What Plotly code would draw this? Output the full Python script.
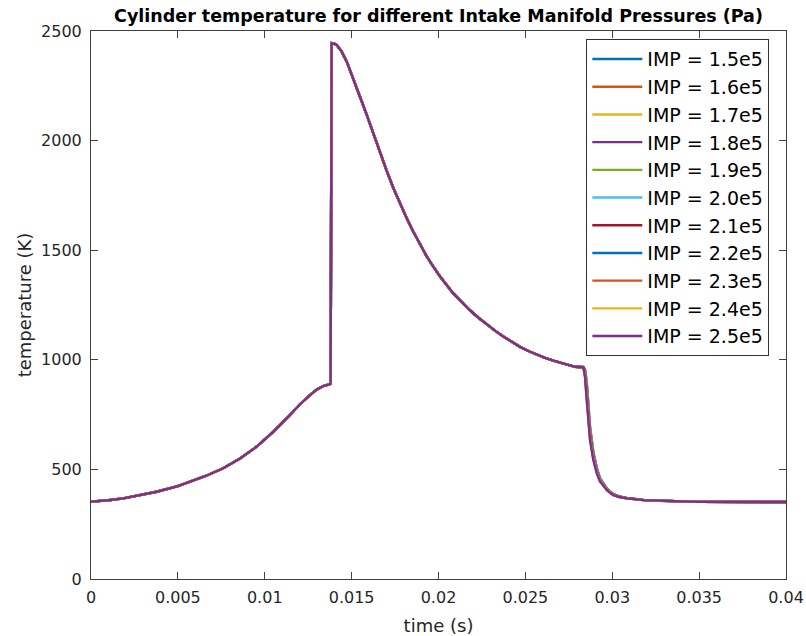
import plotly.graph_objects as go

# Cycle portion shared by every intake pressure: compression, combustion
# jump and expansion, up to the point where the exhaust valve opens.
t_cycle = [0.0, 0.001, 0.00186, 0.0028, 0.00378, 0.005, 0.0057, 0.0066,
           0.00761, 0.0086, 0.00954, 0.0105, 0.01145, 0.012, 0.0126, 0.013,
           0.01337, 0.0136, 0.01379, 0.01385, 0.014, 0.01414, 0.01443,
           0.01472, 0.0151, 0.01548, 0.01587, 0.01625, 0.01663, 0.01702,
           0.0174, 0.01778, 0.01817, 0.01855, 0.01894, 0.01932, 0.0197,
           0.02009, 0.02085, 0.0213, 0.02181, 0.0223, 0.02277, 0.02325,
           0.02373, 0.0242, 0.02469, 0.02517, 0.02565, 0.02613, 0.02661,
           0.02738, 0.02786, 0.02834]
T_cycle = [353, 359, 368, 381, 398, 424, 444, 470,
           505, 551, 604, 672, 748, 795, 839, 865,
           880, 887, 890, 2444, 2442, 2436, 2406,
           2360, 2284, 2200, 2117, 2030, 1948, 1862,
           1784, 1714, 1646, 1584, 1524, 1472, 1425,
           1380, 1303, 1265, 1226, 1192, 1162, 1133,
           1106, 1081, 1059, 1040, 1023, 1009, 996,
           978, 968, 966]

# Blowdown after the exhaust valve opens, one profile per intake pressure.
t_blowdown = [0.02843, 0.02853, 0.02862, 0.02872, 0.02891, 0.02911, 0.0293,
              0.0295, 0.02968, 0.02987, 0.03006, 0.0304, 0.03083, 0.03179,
              0.03275, 0.035, 0.04]
T_blowdown = [
    [958, 904, 803, 697, 581, 507, 460, 435, 414, 399, 388, 377, 370, 361, 357, 352, 351],
    [955, 895, 794, 691, 577, 505, 458, 434, 413, 398, 388, 377, 370, 361, 357, 352, 351],
    [951, 887, 784, 684, 573, 502, 457, 433, 412, 398, 387, 376, 370, 361, 357, 352, 351],
    [948, 878, 775, 678, 570, 500, 455, 431, 412, 397, 387, 376, 369, 361, 357, 352, 351],
    [944, 869, 766, 672, 566, 497, 454, 430, 411, 397, 386, 376, 369, 361, 357, 352, 351],
    [941, 861, 757, 666, 562, 495, 452, 429, 410, 396, 386, 376, 369, 360, 357, 352, 351],
    [937, 852, 747, 659, 558, 492, 450, 428, 409, 395, 385, 375, 369, 360, 357, 352, 351],
    [934, 843, 738, 653, 554, 490, 449, 427, 408, 395, 385, 375, 369, 360, 357, 352, 351],
    [930, 834, 729, 647, 551, 487, 447, 425, 408, 394, 384, 375, 368, 360, 357, 352, 351],
    [927, 826, 719, 640, 547, 485, 446, 424, 407, 394, 384, 374, 368, 360, 357, 352, 351],
    [923, 817, 710, 634, 543, 482, 444, 423, 406, 393, 383, 374, 368, 360, 357, 352, 351],
]

imp_labels = ["IMP = 1.5e5", "IMP = 1.6e5", "IMP = 1.7e5", "IMP = 1.8e5",
              "IMP = 1.9e5", "IMP = 2.0e5", "IMP = 2.1e5", "IMP = 2.2e5",
              "IMP = 2.3e5", "IMP = 2.4e5", "IMP = 2.5e5"]

x_ticks = [0, 0.005, 0.01, 0.015, 0.02, 0.025, 0.03, 0.035, 0.04]
x_tick_text = ["0", "0.005", "0.01", "0.015", "0.02", "0.025", "0.03", "0.035", "0.04"]
y_ticks = [0, 500, 1000, 1500, 2000, 2500]
y_tick_text = ["0", "500", "1000", "1500", "2000", "2500"]

# MATLAB default line colour order
line_colors = ["#0072BD", "#D95319", "#EDB120", "#7E2F8E",
               "#77AC30", "#4DBEEE", "#A2142F"]

FONT = "DejaVu Sans"
AXIS_COLOR = "#404040"

fig = go.Figure()
for i, label in enumerate(imp_labels):
    fig.add_trace(go.Scatter(
        x=t_cycle + t_blowdown,
        y=T_cycle + T_blowdown[i],
        mode="lines",
        name=label,
        line=dict(color=line_colors[i % len(line_colors)], width=2.4),
    ))

axis_common = dict(
    showline=True, linecolor=AXIS_COLOR, linewidth=1, mirror="ticks",
    ticks="inside", ticklen=7, tickwidth=1, tickcolor=AXIS_COLOR,
    showgrid=False, zeroline=False, automargin=False,
    tickfont=dict(family=FONT, size=16, color="#262626"),
)

fig.update_layout(
    width=806, height=636,
    margin=dict(l=91, r=20, t=31, b=57),
    paper_bgcolor="white", plot_bgcolor="white",
    title=dict(
        text="<b>Cylinder temperature for different Intake Manifold Pressures (Pa)</b>",
        font=dict(family=FONT, size=17.5, color="black"),
        x=0.5, xref="paper", xanchor="center",
        y=1 - 16 / 636, yref="container", yanchor="middle",
    ),
    xaxis=dict(
        range=[0, 0.04], tickvals=x_ticks, ticktext=x_tick_text,
        ticklabelstandoff=4,
        title=dict(text="time (s)", font=dict(family=FONT, size=18, color="#262626"),
                   standoff=13),
        **axis_common,
    ),
    yaxis=dict(
        range=[0, 2500], tickvals=y_ticks, ticktext=y_tick_text,
        ticklabelstandoff=5,
        title=dict(text="temperature (K)", font=dict(family=FONT, size=18, color="#262626"),
                   standoff=4),
        **axis_common,
    ),
    legend=dict(
        x=0.976, xanchor="right", y=0.985, yanchor="top",
        bgcolor="white", bordercolor="#333333", borderwidth=1,
        font=dict(family=FONT, size=19, color="black"),
        itemwidth=50,
    ),
    showlegend=True,
)

fig.write_html("out.html")
